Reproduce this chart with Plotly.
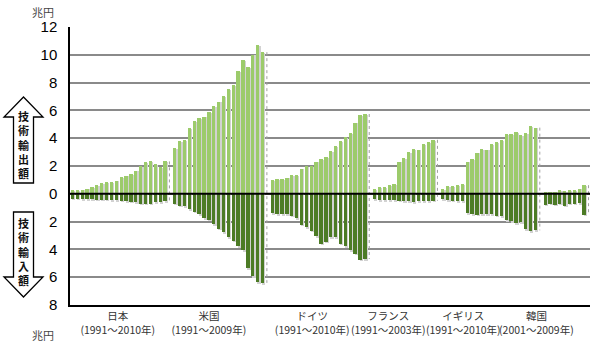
import plotly.graph_objects as go

# ---- data (兆円) ----
countries = ["日本", "米国", "ドイツ", "フランス", "イギリス", "韓国"]
periods = ["(1991～2010年)", "(1991～2009年)", "(1991～2010年)",
           "(1991～2003年)", "(1991～2010年)", "(2001～2009年)"]

japan_exp = [0.29, 0.29, 0.30, 0.38, 0.48, 0.64, 0.76, 0.83, 0.86, 0.95,
             1.19, 1.31, 1.43, 1.67, 1.98, 2.26, 2.38, 2.14, 1.95, 2.33]
japan_imp = [0.35, 0.36, 0.37, 0.37, 0.38, 0.42, 0.43, 0.43, 0.44, 0.45,
             0.50, 0.55, 0.57, 0.62, 0.70, 0.72, 0.72, 0.60, 0.58, 0.52]
us_exp = [3.28, 3.78, 3.88, 4.71, 5.26, 5.45, 5.55, 5.86, 6.34, 6.63,
          7.01, 7.51, 7.80, 8.83, 9.62, 9.09, 10.02, 10.72, 10.19]
us_imp = [0.72, 0.86, 0.91, 1.10, 1.29, 1.46, 1.75, 1.87, 2.18, 2.51,
          2.78, 3.11, 3.37, 3.78, 4.07, 5.33, 5.93, 6.34, 6.41]
de_exp = [1.00, 1.05, 1.08, 1.17, 1.32, 1.36, 1.82, 1.99, 1.99, 2.32,
          2.51, 2.63, 3.09, 3.44, 3.80, 4.09, 4.38, 5.12, 5.67, 5.74]
de_imp = [1.39, 1.46, 1.46, 1.46, 1.58, 1.77, 2.22, 2.42, 2.66, 3.06,
          3.59, 3.44, 3.13, 3.11, 3.59, 3.78, 4.07, 4.31, 4.74, 4.69]
fr_exp = [0.36, 0.50, 0.50, 0.65, 0.69, 2.32, 2.54, 2.99, 3.23, 3.18,
          3.59, 3.73, 3.88]
fr_imp = [0.40, 0.45, 0.45, 0.45, 0.48, 0.50, 0.52, 0.55, 0.58, 0.55,
          0.55, 0.52, 0.50]
uk_exp = [0.36, 0.53, 0.53, 0.65, 0.69, 2.32, 2.51, 2.97, 3.21, 3.18,
          3.59, 3.71, 3.88, 4.31, 4.31, 4.43, 4.21, 4.35, 4.88, 4.76]
uk_imp = [0.40, 0.48, 0.50, 0.55, 0.55, 1.39, 1.46, 1.51, 1.46, 1.46,
          1.46, 1.58, 1.63, 1.91, 1.99, 2.10, 2.03, 2.54, 2.70, 2.63]
kr_exp = [0.14, 0.12, 0.14, 0.26, 0.22, 0.26, 0.26, 0.38, 0.62]
kr_imp = [0.79, 0.72, 0.79, 0.72, 0.86, 0.72, 0.72, 0.67, 1.51]

exports = [japan_exp, us_exp, de_exp, fr_exp, uk_exp, kr_exp]
imports = [japan_imp, us_imp, de_imp, fr_imp, uk_imp, kr_imp]

# label centres (in bar-slot units) as placed in the original
label_pos = [9.3, 28.0, 49.2, 64.8, 80.2, 95.2]

y_ticks = [12, 10, 8, 6, 4, 2, 0, -2, -4, -6, -8]

# ---- build slot positions (one empty slot between countries) ----
xs, ex, im = [], [], []
gap_lines = []
slot = 0
for e, i in zip(exports, imports):
    for k in range(len(e)):
        xs.append(slot)
        ex.append(e[k])
        im.append(-i[k])
        slot += 1
    gap_lines.append((slot - 1 + 0.9, e[-1], -i[-1]))
    slot += 1

EXP_C = "#9ccb6b"
IMP_C = "#4c7b25"
SHADOW = "#d2d2d2"
BW = 0.68

fig = go.Figure()
# shadows
fig.add_trace(go.Bar(x=xs, y=[v - 0.06 for v in ex], base=0, width=BW,
                     offset=-BW / 2 + 0.25, marker=dict(color=SHADOW, line_width=0),
                     hoverinfo="skip", showlegend=False))
fig.add_trace(go.Bar(x=xs, y=[v - 0.12 for v in im], base=0, width=BW,
                     offset=-BW / 2 + 0.25, marker=dict(color=SHADOW, line_width=0),
                     hoverinfo="skip", showlegend=False))
# main bars
fig.add_trace(go.Bar(x=xs, y=ex, width=BW, offset=-BW / 2,
                     marker=dict(color=EXP_C, line_width=0), name="技術輸出額",
                     showlegend=False))
fig.add_trace(go.Bar(x=xs, y=im, width=BW, offset=-BW / 2,
                     marker=dict(color=IMP_C, line_width=0), name="技術輸入額",
                     showlegend=False))
# dotted shadow lines in the gaps
for gx, top, bot in gap_lines:
    fig.add_trace(go.Scatter(x=[gx, gx], y=[top, bot], mode="lines",
                             line=dict(color="#a0a0a0", width=1, dash="dot"),
                             hoverinfo="skip", showlegend=False))

L, R, T, B = 70, 10, 27, 38
W, H = 600, 343
PW, PH = W - L - R, H - T - B


def px(xp):
    return (xp - L) / PW


def py(yp):
    return (H - B - yp) / PH


shapes = [
    dict(type="line", xref="paper", yref="y", x0=0, x1=1, y0=0, y1=0,
         line=dict(color="black", width=2), layer="above"),
]


def path(points):
    return "M " + " L ".join(f"{px(a):.5f},{py(b):.5f}" for a, b in points) + " Z"


up_arrow = [(23.5, 97), (43, 117), (33.5, 117), (33.5, 183), (13.5, 183),
            (13.5, 117), (4, 117)]
down_arrow = [(13.5, 212), (33.5, 212), (33.5, 277), (43, 277), (23.5, 297),
              (4, 277), (13.5, 277)]
for pts in (up_arrow, down_arrow):
    shapes.append(dict(type="path", xref="paper", yref="paper", path=path(pts),
                       fillcolor="white", line=dict(color="black", width=1.3),
                       layer="above"))

annotations = []
char_font = dict(size=11, color="#111", family="Noto Sans CJK JP")
for label, yy in (("技術輸出額", 144.5), ("技術輸入額", 251)):
    annotations.append(dict(xref="paper", yref="paper", x=px(23.5), y=py(yy),
                            xanchor="center", yanchor="middle",
                            text="<b>" + "<br>".join(label) + "</b>",
                            showarrow=False, font=char_font))
for yy in (12, 335):
    annotations.append(dict(xref="paper", yref="paper", x=px(43), y=py(yy),
                            xanchor="center", yanchor="middle",
                            text="兆円", showarrow=False,
                            font=dict(size=11, color="#444",
                                      family="Noto Sans CJK JP")))

fig.update_layout(
    width=W, height=H,
    margin=dict(l=L, r=R, t=T, b=B, autoexpand=False),
    paper_bgcolor="white", plot_bgcolor="white",
    barmode="overlay", bargap=0,
    shapes=shapes, annotations=annotations,
    font=dict(family="Noto Sans CJK JP"),
)
fig.update_xaxes(
    range=[-0.5, 106.2], showgrid=False, zeroline=False, automargin=False,
    showline=True, linecolor="black", linewidth=1.5,
    tickmode="array", tickvals=label_pos, tickangle=0,
    ticktext=[f"{c}<br>{p}" for c, p in zip(countries, periods)],
    ticks="outside", ticklen=1, tickcolor="rgba(0,0,0,0)",
    tickfont=dict(size=10.5, color="#333", family="Noto Sans CJK JP"),
)
fig.update_yaxes(
    range=[-8, 12], tickmode="array", tickvals=y_ticks, automargin=False,
    ticktext=[str(abs(v)) for v in y_ticks],
    showgrid=True, gridcolor="#8a8a8a", gridwidth=1.5,
    zeroline=False, showline=True, linecolor="black", linewidth=1.5,
    ticks="outside", ticklen=8, tickcolor="rgba(0,0,0,0)",
    tickfont=dict(size=15, color="black", family="Liberation Sans"),
)

fig.write_html("out.html")
